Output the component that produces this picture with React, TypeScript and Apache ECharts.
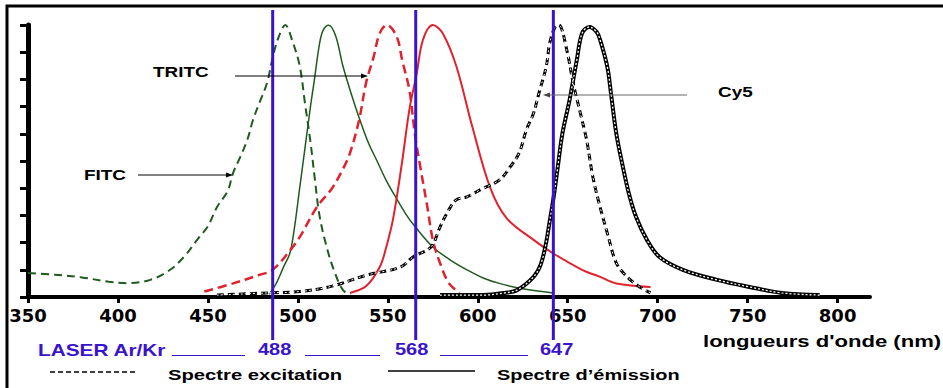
import React, { useEffect, useRef } from "react";
import * as echarts from "echarts";

// ---- Data (wavelength nm, relative intensity %) ----
const xTickValues = [350, 400, 450, 500, 550, 600, 650, 700, 750, 800];

const fitcExWl = [350, 365, 380, 395, 405, 418, 429, 437, 444, 450, 455, 461, 464, 468, 472, 475, 479, 483, 486, 489, 493, 497, 501, 504, 507, 509.5, 512, 516, 520.5, 525, 529];
const fitcExI = [8.8, 8.2, 7.2, 5.6, 5.1, 6.3, 10, 15, 21, 26, 33, 39, 45.6, 51.5, 58, 65, 72, 79, 88, 95, 100, 94, 85, 71, 57, 43, 30, 18.4, 9, 2.6, 0.7];

const fitcEmWl = [484, 488, 492, 495.5, 498, 501, 504, 507, 509, 512, 514, 517, 521, 525, 530, 534, 539, 544, 549, 555, 560, 565, 575, 585, 594, 603, 612, 625, 642];
const fitcEmI = [1, 5, 11, 16, 25, 40, 55, 70, 79, 93, 98, 100, 96, 85, 74, 66, 57, 50, 43, 36, 30.5, 26, 18.4, 13.5, 10, 7, 5, 3, 1.5];

const tritcExWl = [448, 464, 478, 486, 495.5, 501, 510.5, 519, 525, 529, 534, 538, 542, 545.5, 549.5, 555, 558, 562, 565, 568, 572, 575, 579, 584, 590];
const tritcExI = [2, 5, 8, 10, 17, 22, 33, 40, 47, 53, 65, 79, 88, 97, 100, 95.6, 87, 76, 60, 48, 33, 21, 12.5, 5, 1.5];

const tritcEmWl = [529, 538, 545.5, 549, 553, 558, 562, 566, 569.5, 575, 580.5, 588, 597, 607, 616, 631, 642, 658, 668, 677, 696];
const tritcEmI = [1.5, 4, 11, 18, 29, 50, 69, 82, 94.5, 100, 97, 85, 62.5, 40, 29, 21, 16, 10, 7.4, 5, 3.7];

const cy5ExWl = [455, 483, 501, 519, 538, 557, 564, 574, 579, 583, 588, 594, 601, 612, 618, 623, 627, 631, 634, 638, 640, 642.8, 645, 649.4, 653, 657, 660.5, 664, 668, 672, 677, 683, 690, 696];
const cy5ExI = [0.7, 1.5, 2, 4, 8, 11, 14.7, 18.4, 25.7, 31, 35.7, 36.8, 39.3, 43, 47.8, 53, 61.4, 67.6, 75, 84.6, 93.4, 99, 100, 91, 78.7, 67.6, 57.7, 44, 33, 23.5, 12.5, 7.4, 3.7, 1.5];

const cy5EmWl = [579, 603, 615, 622, 631, 635, 638, 640, 642, 644.5, 647, 651, 655, 658, 662, 666, 668, 672, 674, 677, 680.6, 684, 688, 694, 701, 714, 733, 751, 769, 790];
const cy5EmI = [0.7, 0.7, 1.5, 2.6, 7.4, 12, 20, 28, 36, 48, 60, 72.4, 87, 97, 99.3, 97.5, 94.5, 84.6, 75, 60, 48, 38, 29.4, 21, 14.7, 10, 6.3, 3.7, 1.5, 0.7];

// Laser lines: labelled wavelengths and where the lines are drawn in the picture
const laserLabels = ["488", "568", "647"];
const laserLinePos = [486, 565.5, 642];
const laserSpan = [-15.8, 105.5];

const zip = (xs: number[], ys: number[]) => xs.map((x, i) => [x, ys[i]]);

const GREEN = "#1f5a1f";
const RED = "#e0222e";
const BLUE = "#3a14cc";

export default function App() {
  const ref = useRef<HTMLDivElement>(null);
  useEffect(() => {
    if (!ref.current) return;
    const chart = echarts.init(ref.current, undefined, { renderer: "svg" });
    const curve = (name: string, data: number[][], color: string, width: number, type: any, z = 2) => ({
      name,
      type: "line",
      data,
      smooth: 0.35,
      symbol: "none",
      z,
      lineStyle: { color, width, type },
      silent: true,
    });
    const laserSeries = laserLinePos.map((x, i) => ({
      name: "laser" + laserLabels[i],
      type: "line",
      data: [[x, laserSpan[0]], [x, laserSpan[1]]],
      symbol: "none",
      clip: false,
      z: 5,
      silent: true,
      lineStyle: { color: BLUE, width: 3 },
    }));
    const txt = (text: string, x: number, y: number, size: number, fill = "#000", scaleX = 1.35) => ({
      type: "text",
      x,
      y,
      scaleX,
      z: 100,
      style: {
        text,
        fill,
        fontSize: size,
        fontWeight: "bold",
        fontFamily: '"Liberation Sans", Arial, sans-serif',
        align: "left",
        verticalAlign: "middle",
      },
    });
    const seg = (x1: number, y1: number, x2: number, y2: number, stroke: string, lineWidth = 1, lineDash?: number[]) => ({
      type: "line",
      z: 100,
      shape: { x1, y1, x2, y2 },
      style: { stroke, lineWidth, lineDash },
    });
    const head = (pts: number[][], fill: string) => ({
      type: "polygon",
      z: 100,
      shape: { points: pts },
      style: { fill },
    });
    chart.setOption({
      animation: false,
      backgroundColor: "#fff",
      grid: { left: 28, right: 73, top: 25, bottom: 91, containLabel: false },
      xAxis: {
        type: "value",
        min: 350,
        max: 818,
        splitLine: { show: false },
        axisLine: { lineStyle: { color: "#000", width: 4 } },
        axisTick: { show: true, length: 6, lineStyle: { color: "#000", width: 3 }, customValues: xTickValues },
        axisLabel: {
          customValues: xTickValues,
          margin: 9,
          color: "#000",
          fontSize: 18,
          fontWeight: "bold",
          fontFamily: '"DejaVu Sans", sans-serif',
        },
      },
      yAxis: {
        type: "value",
        min: 0,
        max: 100,
        interval: 10,
        splitLine: { show: false },
        axisLine: { show: true, lineStyle: { color: "#000", width: 5 } },
        axisTick: { show: true, length: 8, lineStyle: { color: "#000", width: 3 } },
        axisLabel: { show: false },
      },
      series: [
        curve("FITC excitation", zip(fitcExWl, fitcExI), GREEN, 2, [8, 5]),
        curve("FITC émission", zip(fitcEmWl, fitcEmI), GREEN, 1.5, "solid"),
        curve("TRITC excitation", zip(tritcExWl, tritcExI), RED, 2.5, [9, 5]),
        curve("TRITC émission", zip(tritcEmWl, tritcEmI), RED, 2, "solid"),
        curve("Cy5 excitation", zip(cy5ExWl, cy5ExI), "#000", 3, [7, 4], 3),
        curve("Cy5 excitation motif", zip(cy5ExWl, cy5ExI), "#fff", 1, [2, 2], 4),
        curve("Cy5 émission", zip(cy5EmWl, cy5EmI), "#000", 4, "solid", 3),
        curve("Cy5 émission motif", zip(cy5EmWl, cy5EmI), "#fff", 1.3, [2, 2], 4),
        ...laserSeries,
      ],
      graphic: [
        {
          type: "rect",
          z: 100,
          shape: { x: 7, y: 6, width: 1000, height: 450 },
          style: { fill: "none", stroke: "#000", lineWidth: 3 },
        },
        txt("TRITC", 153, 72, 14),
        seg(235, 76, 364, 76, "#000", 1),
        head([[368, 76], [361, 73.5], [361, 78.5]], "#000"),
        txt("FITC", 84, 175, 14),
        seg(138, 175, 229, 175, "#000", 1),
        head([[233, 175], [226, 172.5], [226, 177.5]], "#000"),
        txt("Cy5", 718, 92, 14),
        seg(547, 95, 687, 95, "#666", 1),
        head([[543, 95], [550, 92.5], [550, 97.5]], "#444"),
        txt("LASER Ar/Kr", 38, 350, 16, BLUE, 1.3),
        seg(172, 355.5, 245, 355.5, BLUE, 1.2),
        txt("488", 258, 350, 16, BLUE, 1.25),
        seg(305, 355.5, 380, 355.5, BLUE, 1.2),
        txt("568", 395, 350, 16, BLUE, 1.25),
        seg(440, 355.5, 528, 355.5, BLUE, 1.2),
        txt("647", 540, 350, 16, BLUE, 1.25),
        txt("longueurs d'onde (nm)", 703, 342, 16, "#000", 1.38),
        seg(50, 372, 137, 372, "#000", 1.5, [5, 3]),
        txt("Spectre excitation", 168, 375, 15, "#000", 1.35),
        seg(388, 371, 475, 371, "#000", 1.5),
        txt("Spectre d’émission", 497, 375, 15, "#000", 1.33),
      ],
    });
    return () => chart.dispose();
  }, []);
  return (
    <div
      ref={ref}
      style={{ position: "absolute", left: 0, top: 0, width: 943, height: 388 }}
    />
  );
}
